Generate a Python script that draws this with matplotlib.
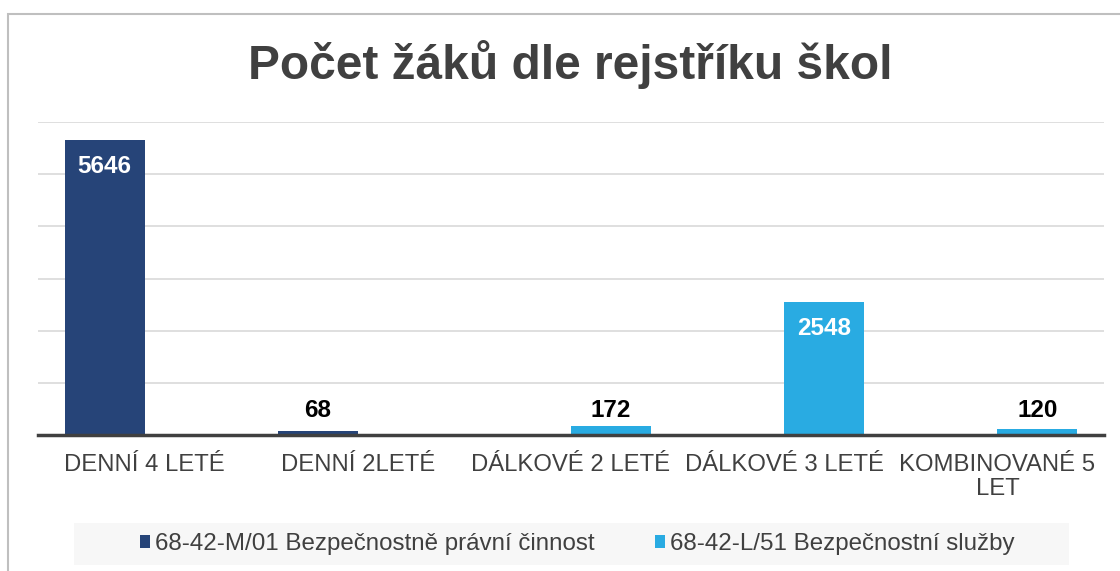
import matplotlib
matplotlib.use("Agg")
import matplotlib.pyplot as plt
from matplotlib.patches import Rectangle, Patch
import numpy as np

plt.rcParams["font.family"] = ["Liberation Sans", "DejaVu Sans"]

categories = ["DENNÍ 4 LETÉ", "DENNÍ 2LETÉ", "DÁLKOVÉ 2 LETÉ", "DÁLKOVÉ 3 LETÉ", "KOMBINOVANÉ 5\nLET"]
series_names = ["68-42-M/01 Bezpečnostně právní činnost", "68-42-L/51 Bezpečnostní služby"]
values_m01 = [5646, 68, 0, 0, 0]
values_l51 = [0, 0, 172, 2548, 120]
colors = ["#264478", "#29ABE2"]

TEXT = "#404040"

fig = plt.figure(figsize=(11.2, 5.71), dpi=100)
ax = fig.add_axes([38 / 1120, 1 - 435 / 571, (1104 - 38) / 1120, (435 - 122) / 571])

x = np.arange(len(categories))
w = 0.375
for vals, off, col in [(values_m01, -w / 2, colors[0]), (values_l51, w / 2, colors[1])]:
    ax.bar(x + off, vals, width=w, color=col, zorder=3)
    for xi, v in zip(x + off, vals):
        if v <= 0:
            continue
        if v > 1000:
            # velká hodnota -> popisek uvnitř sloupce
            ax.annotate(str(v), (xi, v), xytext=(0, -15), textcoords="offset pixels",
                        ha="center", va="top", color="white", fontsize=17.5, fontweight="bold")
        else:
            ax.text(xi, 250, str(v), ha="center", va="bottom", color="black",
                    fontsize=17.5, fontweight="bold")

ax.set_xlim(-0.5, len(categories) - 0.5)
ax.set_ylim(0, 6000)
ax.set_yticks(np.arange(0, 6001, 1000))
ax.yaxis.grid(True, color="#d9d9d9", linewidth=1.2, zorder=0)
ax.tick_params(axis="y", left=False, labelleft=False)
ax.set_xticks(x)
ax.set_xticklabels(categories, fontsize=17.2, color=TEXT, linespacing=1.12)
ax.tick_params(axis="x", length=0, pad=14)
for s in ["top", "left", "right"]:
    ax.spines[s].set_visible(False)
ax.spines["bottom"].set_color(TEXT)
ax.spines["bottom"].set_linewidth(2.5)
ax.spines["bottom"].set_zorder(4)

fig.text(570 / 1120, 1 - 79 / 571, "Počet žáků dle rejstříku škol", ha="center", va="baseline",
         fontsize=34.5, fontweight="bold", color=TEXT)

# rámeček grafu
fig.patches.append(Rectangle((8 / 1120, -0.05), 1.1, 1 - 14 / 571 + 0.05, transform=fig.transFigure,
                             fill=False, edgecolor="#bfbfbf", linewidth=1.5))
# pozadí legendy
fig.patches.append(Rectangle((74 / 1120, 1 - 565 / 571), (1069 - 74) / 1120, 42 / 571,
                             transform=fig.transFigure, facecolor="#f7f7f7", edgecolor="none"))

handles = [Patch(facecolor=c, edgecolor="none") for c in colors]
fig.legend(handles, series_names, loc="center", bbox_to_anchor=(577 / 1120, 1 - 544 / 571),
           ncol=2, frameon=False, fontsize=17.4, labelcolor=TEXT, handlelength=0.42,
           handleheight=0.42, handletextpad=0.2, columnspacing=2.5)

fig.savefig("out.png", dpi=100)
